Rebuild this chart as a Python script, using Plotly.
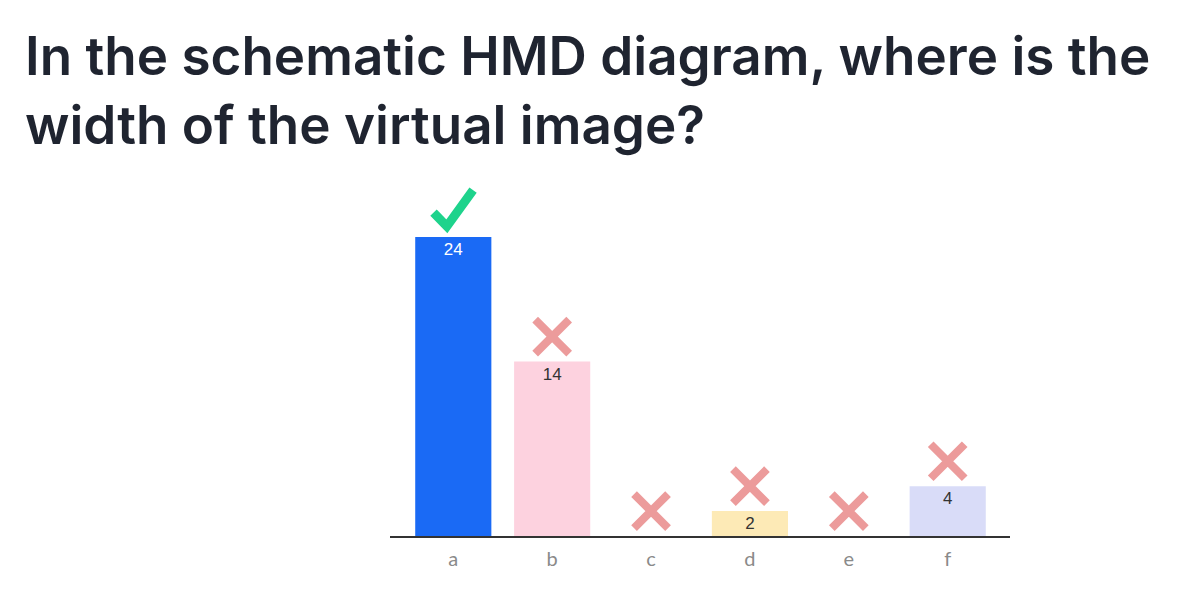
import plotly.graph_objects as go

categories = ["a", "b", "c", "d", "e", "f"]
values = [24, 14, 0, 2, 0, 4]
correct = [True, False, False, False, False, False]
bar_colors = ["#1a6af5", "#fdd2df", "#fde2e8", "#fdeab6", "#e0e0e0", "#d9dcf8"]
text_colors = ["#ffffff", "#333333", "#333333", "#333333", "#333333", "#333333"]
title_lines = ["In the schematic HMD diagram, where is the", "width of the virtual image?"]

positions = list(range(len(categories)))

fig = go.Figure()

fig.add_trace(go.Bar(
    x=positions,
    y=values,
    width=0.77,
    marker=dict(color=bar_colors, line=dict(width=0)),
    text=[str(v) if v > 0 else "" for v in values],
    textposition="inside",
    insidetextanchor="end",
    textangle=0,
    constraintext="none",
    textfont=dict(family="Liberation Sans, Arial, sans-serif", size=17, color=text_colors),
    hoverinfo="skip",
    showlegend=False,
))

# crosses for wrong answers
wrong_x = [p for p, ok in zip(positions, correct) if not ok]
wrong_y = [v + 2.0 for v, ok in zip(values, correct) if not ok]
fig.add_trace(go.Scatter(
    x=wrong_x, y=wrong_y, mode="markers",
    marker=dict(symbol="x-thin", size=34, line=dict(width=8, color="#ec9b9b")),
    hoverinfo="skip", showlegend=False,
))

# check mark for the correct answer
for p, v, ok in zip(positions, values, correct):
    if ok:
        fig.add_trace(go.Scatter(
            x=[p - 0.20, p - 0.065, p + 0.20],
            y=[v + 1.95, v + 0.85, v + 3.75],
            mode="lines",
            line=dict(color="#1ed38c", width=9),
            hoverinfo="skip", showlegend=False,
        ))

# page has an 8px body margin, so figure pixel = screen pixel - 8
L, T, R, B = 382, 172, 185, 69
W, H = 1187, 597
plot_w = W - L - R
plot_h = H - T - B

fig.add_annotation(
    text="<br>".join(title_lines),
    xref="paper", yref="paper",
    x=(15 - L) / plot_w, y=(H - B - 14) / plot_h,
    xanchor="left", yanchor="top", align="left",
    showarrow=False,
    font=dict(family="Inter, Lato, sans-serif", size=53, color="#1f2430", weight=600),
)

fig.update_layout(
    width=W, height=H,
    margin=dict(l=L, r=R, t=T, b=B, autoexpand=False),
    paper_bgcolor="white", plot_bgcolor="white",
    xaxis=dict(
        range=[-0.64, 5.63],
        tickvals=positions, ticktext=categories,
        showline=True, linecolor="#333333", linewidth=2,
        showgrid=False, ticks="", zeroline=False,
        ticklabelstandoff=4,
        tickfont=dict(family="Lato, sans-serif", size=20, color="#8a8a8a"),
    ),
    yaxis=dict(range=[0, 28.57], visible=False, showgrid=False, zeroline=False),
)

fig.write_html("out.html")
